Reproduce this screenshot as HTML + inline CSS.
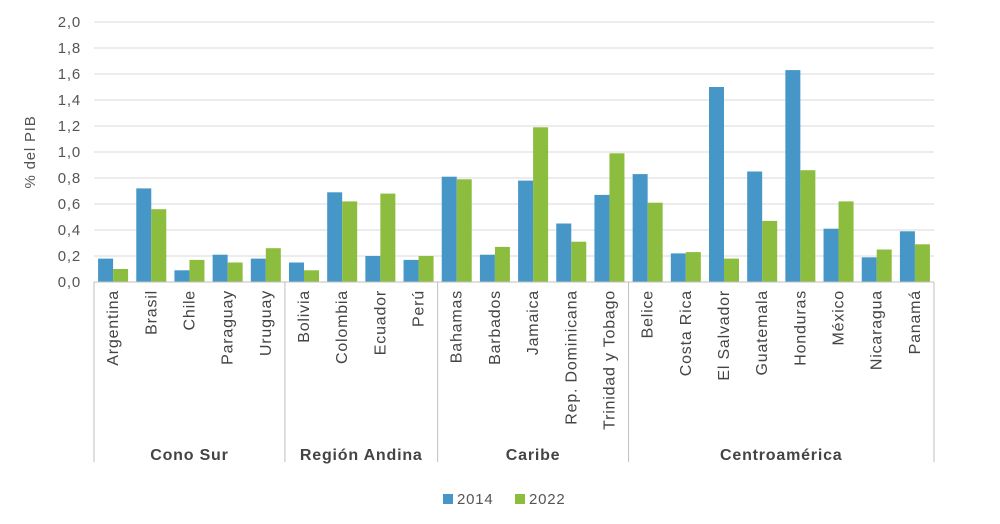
<!DOCTYPE html>
<html><head><meta charset="utf-8"><style>
body{margin:0;background:#fff;}
svg{font-family:"Liberation Sans","DejaVu Sans",sans-serif;}
</style></head><body>
<svg id="c" width="1000" height="519" viewBox="0 0 1000 519"></svg>
<script>
const countries=["Argentina","Brasil","Chile","Paraguay","Uruguay","Bolivia","Colombia","Ecuador","Perú","Bahamas","Barbados","Jamaica","Rep. Dominicana","Trinidad y Tobago","Belice","Costa Rica","El Salvador","Guatemala","Honduras","México","Nicaragua","Panamá"];
const v2014=[0.18,0.72,0.09,0.21,0.18,0.15,0.69,0.20,0.17,0.81,0.21,0.78,0.45,0.67,0.83,0.22,1.50,0.85,1.63,0.41,0.19,0.39];
const v2022=[0.10,0.56,0.17,0.15,0.26,0.09,0.62,0.68,0.20,0.79,0.27,1.19,0.31,0.99,0.61,0.23,0.18,0.47,0.86,0.62,0.25,0.29];
const groups=["Cono Sur","Región Andina","Caribe","Centroamérica"];
const groupSizes=[5,4,5,8];
const yTicks=[0,0.2,0.4,0.6,0.8,1.0,1.2,1.4,1.6,1.8,2.0];

const svg=document.getElementById('c');const NS='http://www.w3.org/2000/svg';
const X0=94,X1=934,Y0=282,Y1=22,YMAX=2.0;
const band=(X1-X0)/countries.length;
const y=v=>Y0-(v/YMAX)*(Y0-Y1);
const xb=i=>X0+i*band;
function mk(t,a,txt){const e=document.createElementNS(NS,t);for(const k in a)e.setAttribute(k,a[k]);if(txt!=null)e.textContent=txt;svg.appendChild(e);return e;}
yTicks.forEach(t=>{
  const g=mk('line',{x1:X0,x2:X1,y1:y(t),y2:y(t),stroke:'#d9d9d9','stroke-width':1});
  
  
  const l=mk('text',{x:81,y:y(t)+5,'text-anchor':'end','font-size':15,'letter-spacing':0.8,fill:'#555'},t.toFixed(1).replace('.',','));
  
  
});
const yt=mk('text',{transform:'translate(35,152) rotate(-90)','text-anchor':'middle','font-size':15,'letter-spacing':0.8,fill:'#555'},'% del PIB');


const bw=15;
countries.forEach((c,i)=>{
  const cx=xb(i)+band/2;
  const b1=mk('rect',{x:cx-bw,y:y(v2014[i]),width:bw,height:Y0-y(v2014[i]),fill:'#4697c8'});
  
  
  const b2=mk('rect',{x:cx,y:y(v2022[i]),width:bw,height:Y0-y(v2022[i]),fill:'#8cbd3f'});
  
  
  const t=mk('text',{transform:`translate(${cx+5},290) rotate(-90)`,'text-anchor':'end','font-size':16,'letter-spacing':0.8,fill:'#444'},c);
  
  
});
const ax=mk('line',{x1:X0,x2:X1,y1:Y0,y2:Y0,stroke:'#bfbfbf','stroke-width':1});


let s=0;
const bounds=[0];groupSizes.forEach(n=>{s+=n;bounds.push(s);});
bounds.forEach(b=>{
  const l=mk('line',{x1:xb(b),x2:xb(b),y1:Y0,y2:462,stroke:'#bfbfbf','stroke-width':1});
  
  
});
groups.forEach((g,i)=>{
  const cx=(xb(bounds[i])+xb(bounds[i+1]))/2;
  const t=mk('text',{x:cx,y:460,'text-anchor':'middle','font-size':16,'letter-spacing':0.8,'font-weight':'bold',fill:'#444'},g);
  
  
});
const lg1=mk('rect',{x:443,y:494,width:10,height:10,fill:'#4697c8'});


const lt1=mk('text',{x:457,y:504,'font-size':15,'letter-spacing':0.8,fill:'#555'},'2014');


const lg2=mk('rect',{x:515,y:494,width:10,height:10,fill:'#8cbd3f'});


const lt2=mk('text',{x:529,y:504,'font-size':15,'letter-spacing':0.8,fill:'#555'},'2022');


</script>
</body></html>
